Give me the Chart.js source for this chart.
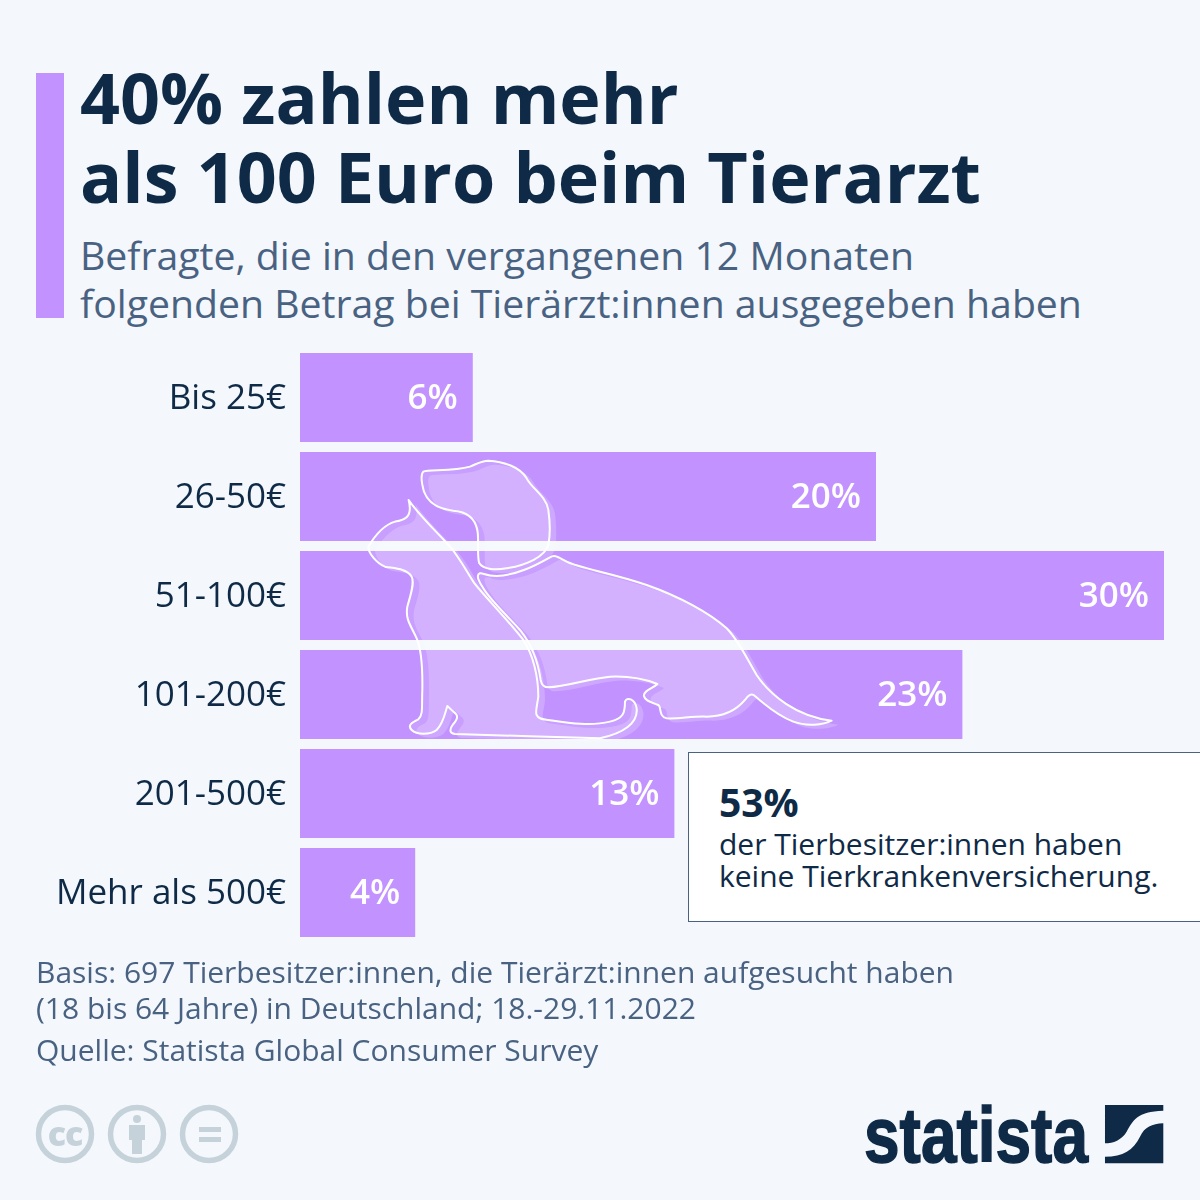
<!DOCTYPE html>
<html lang="de">
<head>
<meta charset="utf-8">
<title>Tierarzt</title>
<script src="https://cdn.jsdelivr.net/npm/chart.js@4"></script>
<style>
html, body { margin: 0; padding: 0; background: #f4f8fc; }
body { width: 1200px; height: 1200px; position: relative; overflow: hidden; font-family: "Open Sans", sans-serif; }
.txt { position: absolute; white-space: nowrap; }
#accent { position: absolute; left: 36px; top: 73px; width: 28px; height: 245px; background: #c293ff; }
#title { left: 80px; top: 58px; font-size: 70px; line-height: 79px; font-weight: 700; color: #0f2a46; }
#subtitle { left: 80px; top: 231px; font-size: 39.2px; line-height: 48px; color: #4a6282; }
#chartWrap { position: absolute; left: 0; top: 348px; width: 1200px; height: 594px; }
#pets { position: absolute; left: 0; top: 0; pointer-events: none; }
#callout { position: absolute; left: 688px; top: 752px; width: 520px; height: 168px; background: #fff; border: 1px solid #4a6282; }
#calloutBig { left: 719px; top: 778px; font-size: 39px; line-height: 48px; font-weight: 700; color: #0f2a46; }
#calloutText { left: 719px; top: 828px; font-size: 30px; line-height: 32px; color: #0f2a46; }
#basis { left: 36px; top: 954px; font-size: 30px; line-height: 36px; color: #4a6282; }
#quelle { left: 36px; top: 1032px; font-size: 30px; line-height: 36px; color: #4a6282; }
</style>
</head>
<body>
<div id="accent"></div>
<div class="txt" id="title">40% zahlen mehr<br>als 100 Euro beim Tierarzt</div>
<div class="txt" id="subtitle">Befragte, die in den vergangenen 12 Monaten<br>folgenden Betrag bei Tierärzt:innen ausgegeben haben</div>

<div id="chartWrap"><canvas id="chart" width="1200" height="594"></canvas></div>

<svg id="pets" width="1200" height="1200" viewBox="0 0 1200 1200">
  <defs>
    <path id="dogHead" d="M190 65 C205 58 280 65 330 50 C350 42 365 32 385 32 C430 35 480 50 500 85 C515 115 560 140 565 180 C570 215 570 260 565 285 C555 320 500 345 440 355 C410 360 370 360 358 340 C350 320 358 270 352 240 C345 205 320 185 280 182 C240 178 205 160 192 125 C185 100 180 75 190 65 Z"/>
    <path id="dogBody" d="M360 370 C370 368 375 378 410 378 C470 375 520 350 570 322 C585 312 595 322 620 335 C660 355 760 370 860 405 C960 440 1050 490 1100 535 C1135 570 1160 625 1190 675 C1230 735 1310 800 1415 812 C1390 825 1340 830 1300 815 C1260 800 1210 760 1185 738 C1175 728 1165 735 1155 750 C1130 780 1090 800 1040 800 C1000 798 950 808 920 805 C895 800 905 770 895 765 C880 758 855 755 852 738 C850 720 880 715 892 702 C850 685 800 678 750 680 C690 685 620 710 565 712 C550 712 545 705 542 690 C535 640 520 590 480 540 C440 495 390 450 370 415 C360 400 345 375 360 370 Z"/>
    <path id="cat" d="M146 150 C180 200 240 255 270 290 C300 325 320 365 340 395 C360 425 440 505 490 570 C520 615 535 680 535 740 C532 765 525 785 530 795 C535 808 550 808 565 810 C620 818 690 830 750 815 C790 805 795 790 795 755 C800 740 825 745 830 775 C835 820 790 850 720 865 C600 862 400 855 285 852 C265 850 270 835 280 822 C295 805 295 795 280 785 L262 768 C255 790 250 820 230 840 C210 855 170 855 155 840 C140 825 160 815 175 808 C190 795 185 770 187 720 C188 660 185 600 170 565 C155 530 135 510 142 470 C150 440 165 400 155 380 C140 355 100 355 75 350 C50 340 25 310 25 290 C40 265 70 225 105 215 C130 210 160 205 146 150 Z"/>
  </defs>
  <g transform="translate(360 450) scale(0.3333)">
    <g fill="#ffffff" fill-opacity="0.2" transform="translate(20 12)">
      <use href="#dogHead"/><use href="#dogBody"/><use href="#cat"/>
    </g>
    <g fill="#ffffff" fill-opacity="0.1" stroke="#ffffff" stroke-width="6" stroke-linejoin="round">
      <use href="#dogHead"/><use href="#dogBody"/><use href="#cat"/>
    </g>
  </g>
</svg>

<div id="callout"></div>
<div class="txt" id="calloutBig">53%</div>
<div class="txt" id="calloutText">der Tierbesitzer:innen haben<br>keine Tierkrankenversicherung.</div>

<div class="txt" id="basis">Basis: 697 Tierbesitzer:innen, die Tierärzt:innen aufgesucht haben<br>(18 bis 64 Jahre) in Deutschland; 18.-29.11.2022</div>
<div class="txt" id="quelle">Quelle: Statista Global Consumer Survey</div>

<svg style="position:absolute;left:0;top:0" width="1200" height="1200" viewBox="0 0 1200 1200">
  <g fill="none" stroke="#c5d2da" stroke-width="5.5">
    <circle cx="65" cy="1134" r="26.5"/>
    <circle cx="137" cy="1134" r="26.5"/>
    <circle cx="209" cy="1134" r="26.5"/>
  </g>
  <text x="65" y="1146" text-anchor="middle" font-family="Open Sans" font-weight="800" font-size="34" letter-spacing="-1" fill="#c5d2da">cc</text>
  <g fill="#c5d2da">
    <circle cx="137" cy="1119" r="4"/>
    <rect x="129" y="1125" width="16" height="15"/>
    <rect x="132" y="1125" width="10" height="29"/>
    <rect x="199" y="1127" width="22" height="5"/>
    <rect x="199" y="1137" width="22" height="5"/>
  </g>
  <text x="864" y="1162" textLength="224" lengthAdjust="spacingAndGlyphs" font-family="Liberation Sans" font-weight="700" font-size="78" fill="#0f2a46" stroke="#0f2a46" stroke-width="1.5">statista</text>
  <g transform="translate(850 1090) scale(0.3333)" fill="#0f2a46">
    <path d="M765 45 H940 V62 C860 65 850 90 830 125 C815 150 790 160 765 160 Z"/>
    <path d="M940 100 V220 H765 V200 C820 200 850 180 870 140 C885 110 905 102 940 100 Z"/>
  </g>
</svg>

<script>
var categories = ["Bis 25€", "26-50€", "51-100€", "101-200€", "201-500€", "Mehr als 500€"];
var shares = [6, 20, 30, 23, 13, 4];
var shareLabels = ["6%", "20%", "30%", "23%", "13%", "4%"];

// Prozentwerte rechtsbuendig in den Balken schreiben
var barLabels = {
    id: 'barLabels',
    afterDatasetsDraw: function(chart) {
        var ctx = chart.ctx;
        var bars = chart.getDatasetMeta(0).data;
        ctx.save();
        ctx.font = '600 35px "Open Sans"';
        ctx.fillStyle = '#ffffff';
        ctx.textAlign = 'right';
        ctx.textBaseline = 'middle';
        bars.forEach(function(bar, i) {
            ctx.fillText(shareLabels[i], bar.x - 15, bar.y + 2);
        });
        ctx.restore();
    }
};

var ctx = document.getElementById('chart');
new Chart(ctx, {
    type: 'bar',
    data: {
        labels: categories,
        datasets: [{
            data: shares,
            backgroundColor: '#c293ff',
            borderWidth: 0,
            barPercentage: 89 / 99,
            categoryPercentage: 1
        }]
    },
    options: {
        indexAxis: 'y',
        responsive: false,
        animation: false,
        layout: { padding: { left: 0, right: 36, top: 0, bottom: 0 } },
        plugins: { legend: { display: false }, tooltip: { enabled: false } },
        scales: {
            x: { display: false, min: 0, max: 30 },
            y: {
                afterFit: function(scale) {
                    scale.width = 300;
                    // sonst schrumpft der Balkenbereich um die Label-Hoehe
                    scale.paddingTop = 0;
                    scale.paddingBottom = 0;
                },
                grid: { display: false },
                border: { display: false },
                ticks: {
                    padding: 6,
                    labelOffset: 2,
                    color: '#0f2a46',
                    font: { family: '"Open Sans"', size: 35 }
                }
            }
        }
    },
    plugins: [barLabels]
});
</script>
</body>
</html>
